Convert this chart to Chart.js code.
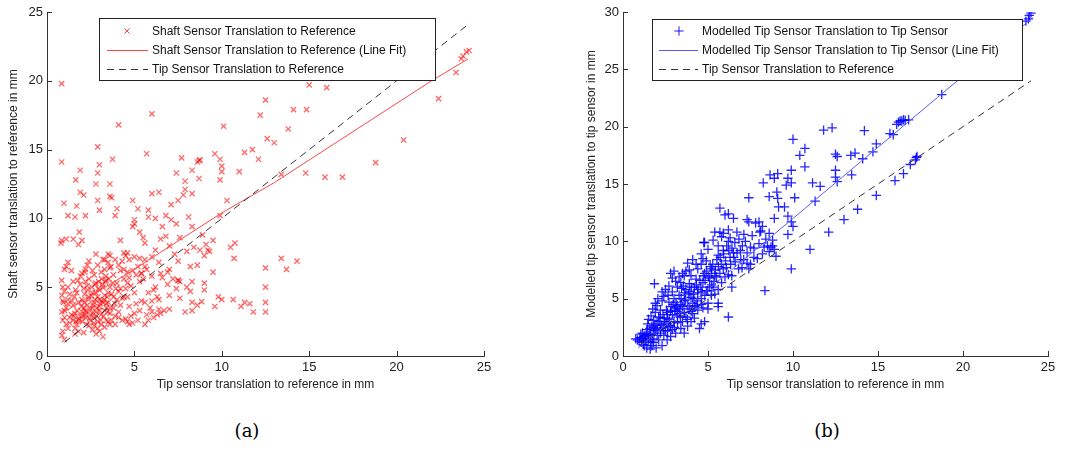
<!DOCTYPE html>
<html>
<head>
<meta charset="utf-8">
<script src="https://cdn.jsdelivr.net/npm/chart.js@4.4.0/dist/chart.umd.min.js"></script>
<style>
  body { margin: 0; background: #fff; width: 1069px; height: 449px; position: relative; overflow: hidden; }
  canvas { position: absolute; top: 0; }
  #chart_a { left: 0; }
  #chart_b { left: 534px; }
  .cap { position: absolute; top: 420px; width: 60px; text-align: center; font-family: "DejaVu Serif", serif; font-size: 18px; line-height: 22px; color: #000; }
</style>
</head>
<body>
<canvas id="chart_a" width="534" height="400"></canvas>
<canvas id="chart_b" width="535" height="400"></canvas>
<div class="cap" style="left:217px">(a)</div>
<div class="cap" style="left:797px">(b)</div>
<script>
// (a) shaft sensor vs tip sensor translation, mm
const shaft_points = [
  [0.84,19.8],[0.84,14.1],[0.97,11.1],[0.84,8.4],[0.8,8.2],[0.84,5.5],[1.2,10.2],[1.6,10.1],[1.5,8.5],[1.1,8.5],
  [1.9,13.5],[1.65,12.8],[1.7,10.9],[1.9,11.9],[2.1,11.7],[2.2,10.2],[1.85,9.0],[2.0,8.4],[1.8,8.1],
  [2.9,15.2],[3.0,13.9],[2.9,13.3],[2.8,12.5],[2.9,11.3],[3.0,10.6],[3.6,12.5],[3.6,11.6],[3.7,11.5],[3.75,14.3],
  [4.0,10.7],[3.9,10.2],[4.1,16.8],[6.0,17.6],[5.7,14.7],[6.0,11.8],[6.4,11.9],[5.8,10.6],[5.2,10.7],[4.9,11.3],
  [5.0,9.9],[4.9,9.4],[4.2,8.4],[5.8,10.1],[6.2,10.0],[6.8,10.2],[7.1,11.0],[7.5,11.3],[7.4,13.3],[7.7,14.4],
  [7.9,12.7],[7.9,12.1],[7.8,11.7],[8.3,13.5],[8.3,11.8],[8.7,14.2],[8.6,14.1],[8.75,14.25],[8.7,12.9],[8.1,10.1],
  [8.3,9.4],[7.4,9.6],[7.1,9.9],[6.6,9.4],[6.8,8.7],[7.6,8.6],[8.75,7.7],[9.1,8.1],[9.2,7.7],[9.0,7.3],
  [9.6,14.7],[9.9,14.3],[10.0,13.8],[10.0,13.4],[9.9,12.8],[10.1,16.7],[10.3,11.3],[9.9,10.2],[9.5,8.4],[10.5,7.9],
  [10.75,8.2],[10.7,7.1],[9.5,6.1],[11.0,13.4],[11.3,14.8],[11.75,15.0],[12.1,14.3],[12.2,17.5],[12.5,18.6],[12.6,15.8],
  [13.0,15.5],[13.8,16.5],[14.1,17.9],[14.85,17.9],[15.0,19.7],[16.0,19.5],[14.8,13.3],[15.9,13.0],[16.9,13.0],[13.4,13.2],
  [13.4,7.1],[13.7,6.3],[14.3,6.9],[12.5,6.4],[12.5,5.0],[12.5,3.9],[12.5,3.2],[11.8,3.2],[11.6,3.8],[11.3,3.9],
  [11.1,3.6],[10.65,4.1],[10.0,4.1],[9.8,4.3],[9.6,3.6],[9.0,4.8],[9.0,5.3],[8.85,3.95],[8.6,3.7],[8.3,3.9],
  [8.3,5.4],[8.2,4.7],[8.3,3.3],[7.9,3.2],[8.2,6.5],[8.6,6.6],[7.5,5.5],[7.4,4.9],[7.6,4.2],[7.0,4.4],[6.9,5.2],
  [18.8,14.05],[20.4,15.7],[22.4,18.7],[23.4,20.6],[23.8,21.8],[24.0,22.1],[24.15,22.2],[23.7,21.6],
  [5.0,9.6],[5.3,9.0],[5.5,8.6],[5.6,8.2],[6.5,8.5],[7.0,8.0],[6.2,7.7],[6.0,7.2],[7.3,7.4],[7.5,6.9],
  [8.0,7.6],[8.4,7.9],[7.0,6.3],[6.5,6.0],[8.0,5.0],[8.9,8.8],[9.3,7.6],[5.4,6.0],[5.6,6.5],[4.6,7.5],
  [4.4,7.5],[4.5,7.3],[3.5,7.4],[3.6,7.3],[3.2,7.0],[4.7,7.0],[5.5,5.6],[6.1,4.8],[6.4,4.1],[7.2,5.6],[7.5,5.5],[7.6,5.4],
  [0.85,1.5],[0.9,1.8],[1.0,1.2],[0.9,2.6],[1.0,2.8],[0.85,3.2],[1.1,3.5],[0.95,3.9],[1.2,4.1],[0.85,4.4],
  [1.0,4.7],[1.3,4.5],[1.1,6.5],[1.2,6.8],[1.0,6.3],[1.4,3.0],[1.3,2.4],[1.5,3.7],
  [1.6,2.0],[1.7,2.3],[1.8,2.6],[1.9,2.9],[1.6,3.1],[2.0,3.2],[2.2,3.0],[2.1,3.5],[2.3,3.7],[1.8,3.9],
  [2.0,4.1],[2.4,4.3],[1.7,4.6],[2.1,4.9],[2.3,5.1],[2.2,5.4],[1.9,5.2],[2.4,5.6],[2.0,6.0],[2.2,6.3],
  [2.3,6.6],[1.8,1.8],[2.1,1.7],[2.4,2.2],[2.5,2.6],[2.2,2.8],
  [2.6,1.9],[2.8,1.6],[3.0,1.8],[3.2,1.4],[2.9,2.5],[2.7,2.8],[3.1,3.0],[2.8,3.2],[3.3,3.3],[2.6,3.5],
  [3.0,3.6],[3.4,3.8],[2.7,3.9],[3.1,4.0],[2.9,4.3],[3.3,4.4],[2.6,4.6],[3.0,4.8],[3.2,5.0],[2.8,5.3],
  [3.4,5.5],[2.7,5.9],[3.1,6.1],[2.9,6.6],[3.3,7.0],[2.8,7.4],[3.0,3.3],[3.2,3.9],[2.75,4.1],
  [3.6,2.3],[3.7,2.6],[3.9,2.9],[3.6,3.1],[4.1,3.2],[3.8,3.5],[4.2,3.7],[3.5,3.9],[4.0,4.1],[4.3,4.2],
  [3.7,4.5],[4.1,4.7],[3.6,5.0],[4.0,5.3],[4.4,5.6],[3.8,5.9],[4.2,6.2],[3.6,6.4],[3.65,6.5],[4.3,6.9],[3.9,7.0],[4.4,4.3],
  [4.6,2.5],[4.5,2.7],[4.9,2.4],[5.2,2.6],[4.8,2.9],[5.0,3.1],[5.3,3.3],[4.7,3.6],[5.1,3.8],[5.4,4.0],
  [4.6,4.3],[5.0,4.6],[4.8,5.1],[5.3,5.4],[4.7,5.7],[5.1,5.9],[4.6,6.1],[5.4,6.0],[5.0,7.2],[5.3,7.1],
  [5.6,2.3],[5.8,2.6],[6.1,2.8],[5.7,3.0],[6.3,3.0],[6.0,3.2],[6.5,3.1],[5.9,3.5],[6.4,3.4],[6.7,3.3],
  [7.0,3.4],[5.6,3.9],[6.0,4.0],[6.3,4.3],[5.8,4.6],[6.2,5.0],[6.6,5.7],[6.0,5.8],[6.9,6.1],[5.7,6.3],[6.4,6.8],
  [3.4,2.6],[2.5,3.0],[1.5,2.6],[1.2,3.8],[3.5,4.6],[3.3,6.3],[4.5,4.9]
];
// the dense core below 7 mm
const shaft_core = [
  [1.55,2.9],[1.72,3.3],[1.97,3.6],[2.13,3.9],[2.38,4.1],[2.52,4.4],[2.78,4.6],[2.93,4.9],[3.18,5.2],[3.33,5.4],
  [1.66,2.5],[1.83,2.7],[2.07,2.9],[2.24,3.2],[2.47,3.4],[2.63,3.7],[2.87,3.5],[3.04,3.8],[3.27,4.1],[3.44,4.3],
  [2.02,2.5],[2.27,2.3],[2.43,2.7],[2.68,2.4],[2.84,2.9],[3.07,2.6],[3.23,2.9],[3.48,3.2],[3.62,3.5],[3.88,3.8],
  [2.16,4.5],[2.33,4.8],[2.57,5.0],[2.74,5.2],[2.96,5.4],[3.12,5.6],[3.37,5.8],[3.53,5.6],[3.78,5.3],[3.94,4.9],
  [1.43,4.0],[1.57,4.3],[1.64,4.8],[1.77,5.5],[1.93,5.8],[2.17,6.1],[2.6,6.2],[2.4,6.9],[3.5,6.8],[4.1,6.6],
  [3.1,2.3],[3.3,2.1],[2.9,2.0],[2.7,2.2],[3.5,2.5],[3.9,2.3],[4.3,2.6],[4.7,2.3],[4.1,2.8],[3.0,4.1],
  [2.2,3.3],[2.6,3.1],[3.4,3.5],[3.8,4.3],[4.2,4.9],[4.6,5.3],[4.9,6.2],[4.4,6.3],[5.2,6.5],[5.6,7.0],
  [1.2,2.0],[1.1,2.3],[1.3,2.8],[1.0,3.3],[1.2,5.0],[1.5,5.4],[1.4,6.2],[0.9,5.0],[0.9,4.0],[1.6,1.6]
];
const shaft_fit = [[0.85,3.1],[4.5,5.9],[10.0,10.4],[13.0,12.6],[22.0,20.0],[24.1,21.6]];
const tip_ref_a = [[1.0,1.0],[24.2,24.2]];

// (b) modelled tip sensor vs tip sensor translation, mm
const model_points = [
  [23.9,29.7],[23.85,29.4],[23.7,29.2],[24.0,29.9],[18.75,22.8],[17.3,17.4],[17.2,17.1],[17.25,17.3],[16.9,16.7],[16.5,15.9],
  [16.0,15.3],[14.9,14.0],[13.8,12.8],[13.0,11.9],[12.1,10.8],[11.0,9.3],[9.9,7.6],[16.2,20.4],[16.3,20.5],[16.5,20.6],
  [16.8,20.6],[16.1,20.2],[16.4,20.5],[16.6,20.55],[15.7,19.4],[15.9,19.3],[14.9,18.5],[14.7,17.8],[14.1,17.2],[14.2,19.65],
  [13.65,17.7],[13.4,17.5],[13.45,15.8],[12.5,17.6],[12.6,17.4],[12.5,16.2],[12.5,15.6],[12.6,15.2],[12.3,19.9],[11.8,19.7],
  [11.6,14.8],[11.15,15.1],[11.3,13.5],[10.7,18.1],[10.4,17.5],[10.7,16.5],[10.0,18.9],[9.9,16.2],[9.9,15.1],[10.1,13.8],
  [9.7,15.5],[9.6,14.9],[9.5,13.0],[9.7,12.2],[9.7,10.6],[9.9,11.7],[10.0,11.3],[8.65,15.8],[8.9,15.5],[9.1,15.9],
  [9.05,14.3],[9.1,13.75],[8.6,13.9],[8.25,15.1],[9.15,13.0],[8.9,12.0],[9.0,8.7],[8.35,5.7],[7.4,13.8],[7.3,11.9],
  [7.4,11.7],[8.0,11.7],[8.2,11.3],[8.05,10.8],[8.6,10.7],[6.5,12.0],[6.2,12.4],[6.0,12.3],[5.7,12.9],[6.2,11.0],
  [6.3,10.3],[5.9,10.7],[5.4,10.8],[4.8,9.9],[6.2,3.4],[6.4,6.0],[5.6,4.3],
  [0.75,1.5],[0.85,1.4],[0.95,1.3],[1.0,1.6],[1.1,1.2],[1.2,1.0],[1.3,1.8],[1.15,2.0],[1.4,2.3],[1.35,1.5],
  [1.25,0.9],[1.45,2.8],[1.5,3.2],[1.05,1.9],[1.4,0.7],[1.5,1.4],
  [1.6,0.6],[1.7,0.9],[1.8,1.2],[1.6,1.9],[1.9,2.2],[1.7,2.6],[2.0,2.8],[1.8,3.1],[2.1,3.4],[1.9,3.8],
  [2.2,4.0],[2.0,4.4],[2.3,4.8],[1.85,6.3],[2.4,5.2],[2.2,2.4],[2.4,1.8],[2.1,1.4],[2.3,0.9],[1.95,0.7],
  [2.5,2.2],[2.45,3.0],[2.35,3.6],[1.75,4.1],[1.65,3.5],[2.05,5.0],
  [2.6,1.4],[2.8,1.7],[2.9,2.3],[2.7,2.7],[3.0,3.0],[2.6,3.3],[3.2,3.5],[2.8,3.9],[3.1,4.2],[3.4,4.5],
  [2.7,4.7],[3.0,5.0],[3.3,5.3],[2.9,5.6],[3.2,6.0],[3.4,6.4],[2.8,7.2],[3.0,7.4],[3.3,6.9],[3.5,3.0],
  [3.4,2.4],[3.1,2.0],[2.65,5.3],[3.45,5.9],[3.2,3.9],[2.95,4.5],[3.35,4.1],[2.55,4.0],
  [3.6,2.0],[3.8,2.6],[4.0,3.0],[3.7,3.4],[4.1,3.7],[3.9,4.1],[4.3,4.4],[3.6,4.8],[4.0,5.1],[4.4,5.5],
  [3.7,5.8],[4.2,6.0],[3.9,6.3],[4.3,6.7],[3.6,7.0],[4.0,7.0],[3.8,8.1],[4.4,7.6],[4.2,3.3],[4.5,2.4],
  [4.4,4.0],[3.55,6.1],[4.1,4.6],[3.85,5.4],
  [4.6,2.8],[4.8,3.0],[4.7,4.2],[5.0,4.6],[4.6,5.0],[5.2,5.3],[4.9,5.7],[5.3,6.0],[4.7,6.4],[5.1,6.8],
  [4.8,7.2],[5.4,7.0],[4.6,8.0],[4.9,8.3],[4.7,8.5],[5.2,7.6],[4.75,9.9],[5.4,5.4],[5.0,4.1],[5.35,6.5],
  [5.1,6.0],[4.65,5.6],
  [5.6,5.8],[5.8,6.4],[6.0,6.9],[5.7,7.2],[6.2,7.1],[5.9,7.6],[6.4,7.0],[5.6,8.8],[5.8,10.4],[5.7,10.8],
  [5.9,9.2],[6.3,8.6],[6.6,8.2],[6.1,9.6],[6.5,9.0],[6.8,7.6],[6.9,9.2],[5.5,6.9],[6.2,10.0],[6.7,10.8],[5.6,4.6],
  [7.1,8.4],[7.3,9.0],[7.5,9.5],[7.2,10.0],[7.7,8.6],[7.9,8.5],[7.6,10.5],[8.0,9.8],[8.3,9.5],[8.5,9.6],
  [8.7,9.5],[8.8,9.6],[8.4,10.2],[7.4,7.6],[7.0,7.7],[7.8,11.6],[8.1,10.9],[8.6,9.1],[7.5,8.0]
];
// the dense band below 7 mm
const model_core = [
  [1.12,1.5],[1.23,1.7],[1.31,1.3],[1.52,1.8],[1.58,2.4],[1.73,1.5],[1.82,2.0],[1.88,2.7],[2.03,2.3],[2.12,3.0],
  [2.21,2.0],[2.28,2.7],[2.42,3.3],[2.53,2.8],[2.61,3.8],[2.72,3.2],[2.83,4.3],[2.91,3.6],[3.04,4.0],[3.12,4.7],
  [3.18,4.4],[3.31,3.7],[3.42,5.0],[3.51,4.3],[3.62,5.5],[3.68,4.9],[3.81,4.4],[3.93,5.6],[4.02,6.0],[4.13,5.4],
  [4.18,5.0],[4.32,6.2],[4.41,5.8],[4.52,6.6],[4.58,6.0],[4.72,7.0],[4.83,6.6],[4.91,7.4],[5.02,6.9],[5.13,7.8],
  [5.22,7.2],[5.28,8.0],[5.43,7.5],[5.52,8.4],[5.61,7.8],[5.72,8.6],[5.78,8.0],[5.92,8.9],[6.03,8.3],[6.08,7.7],
  [6.22,9.2],[6.33,8.0],[6.41,9.4],[6.52,8.6],[6.58,9.9],[6.71,9.0],[6.82,10.2],[6.93,8.4],[7.02,9.6],[7.11,10.6],
  [1.42,1.9],[1.63,1.2],[1.79,2.5],[2.01,1.8],[2.19,3.3],[2.38,2.5],[2.62,2.2],[2.79,2.6],[3.02,2.5],[3.21,2.9],
  [3.38,3.4],[3.61,3.8],[3.79,3.2],[4.01,3.9],[4.22,4.3],[4.38,4.8],[4.62,4.5],[4.81,5.3],[4.98,5.7],[5.21,6.2],
  [2.5,5.8],[2.7,6.1],[3.1,6.5],[3.5,7.2],[3.9,7.5],[4.3,8.0],[4.6,8.9],[5.0,9.3],[5.3,10.1],[5.6,9.6],
  [1.9,4.6],[2.3,5.6],[2.9,6.8],[3.7,7.4],[4.1,8.4],[7.7,9.4],[8.2,8.9],[8.8,10.1],[8.9,9.3],[7.3,8.1]
];
const model_fit = [[0.9,0.7],[24.1,29.5]];
const tip_ref_b = [[1.0,1.0],[24.0,24.0]];

const x_ticks = [0, 5, 10, 15, 20, 25];
const y_ticks_a = [0, 5, 10, 15, 20, 25];
const y_ticks_b = [0, 5, 10, 15, 20, 25, 30];

const FONT = "'Liberation Sans', Arial, sans-serif";
const to_xy = (pts) => pts.map((p) => ({ x: p[0], y: p[1] }));

// MATLAB style ticks pointing into the plot
const inner_ticks = {
  id: "inner_ticks",
  afterDatasetsDraw(chart) {
    const ctx = chart.ctx;
    const { x, y } = chart.scales;
    ctx.save();
    ctx.strokeStyle = "#333";
    ctx.lineWidth = 1;
    ctx.beginPath();
    x.ticks.forEach((t) => {
      const px = Math.round(x.getPixelForValue(t.value)) + 0.5;
      ctx.moveTo(px, y.bottom);
      ctx.lineTo(px, y.bottom - 5);
    });
    y.ticks.forEach((t) => {
      const py = Math.round(y.getPixelForValue(t.value)) + 0.5;
      ctx.moveTo(x.left, py);
      ctx.lineTo(x.left + 5, py);
    });
    ctx.stroke();
    ctx.restore();
  },
};

// legend box inside the plot
const box_legend = {
  id: "box_legend",
  afterDraw(chart, args, o) {
    const ctx = chart.ctx;
    const [bx, by, bw, bh] = o.box;
    ctx.save();
    ctx.fillStyle = "#fff";
    ctx.fillRect(bx, by, bw, bh);
    ctx.strokeStyle = "#222";
    ctx.lineWidth = 1;
    ctx.strokeRect(bx + 0.5, by + 0.5, bw, bh);
    ctx.font = "12px " + FONT;
    ctx.textBaseline = "middle";
    o.order.forEach((di, i) => {
      const ds = chart.data.datasets[di];
      const ry = by + o.row0 + i * o.rowGap;
      if (ds.showLine) {
        ctx.beginPath();
        ctx.strokeStyle = ds.borderColor;
        ctx.setLineDash(ds.borderDash || []);
        ctx.moveTo(bx + o.lineX0, ry + 0.5);
        ctx.lineTo(bx + o.lineX1, ry + 0.5);
        ctx.stroke();
        ctx.setLineDash([]);
      } else {
        ctx.strokeStyle = o.markColor;
        ctx.lineWidth = 1;
        Chart.helpers.drawPoint(ctx, { pointStyle: ds.pointStyle, radius: ds.pointRadius, borderWidth: 1 }, bx + o.markX, ry);
      }
      ctx.fillStyle = "#111";
      ctx.fillText(ds.label, bx + o.textX, ry + 1);
    });
    ctx.restore();
  },
};

function make_chart(id, datasets, ymax, yticks, ytitle, ywidth, ytitlePad, padRight, legend) {
  return new Chart(document.getElementById(id), {
    type: "scatter",
    data: { datasets: datasets },
    options: {
      responsive: false,
      animation: false,
      layout: { padding: { top: 12, right: padRight, bottom: 0, left: 0 } },
      plugins: { legend: { display: false }, tooltip: { enabled: false }, box_legend: legend },
      scales: {
        x: {
          type: "linear", min: 0, max: 25,
          afterBuildTicks: (s) => { s.ticks = x_ticks.map((v) => ({ value: v })); },
          afterFit: (s) => { s.height = 44; },
          grid: { display: false, drawTicks: false },
          border: { display: true, color: "#333" },
          ticks: { font: { size: 13, family: FONT }, color: "#222", padding: 4, maxRotation: 0, autoSkip: false },
          title: { display: true, text: "Tip sensor translation to reference in mm", font: { size: 12, family: FONT }, color: "#222", padding: { top: 0, bottom: 8 } },
        },
        y: {
          type: "linear", min: 0, max: ymax,
          afterBuildTicks: (s) => { s.ticks = yticks.map((v) => ({ value: v })); },
          afterFit: (s) => { s.width = ywidth; },
          grid: { display: false, drawTicks: false },
          border: { display: true, color: "#333" },
          ticks: { font: { size: 13, family: FONT }, color: "#222", padding: 4, autoSkip: false },
          title: { display: true, text: ytitle, font: { size: 12, family: FONT }, color: "#222", padding: { top: ytitlePad, bottom: 0 } },
        },
      },
    },
    plugins: [inner_ticks, box_legend],
  });
}

const chart_a = make_chart("chart_a", [
  { label: "Shaft Sensor Translation to Reference", data: to_xy(shaft_points.concat(shaft_core)), pointStyle: "crossRot", pointRadius: 3.7,
    borderColor: "rgba(255,0,0,0.6)", backgroundColor: "rgba(255,0,0,0.6)", borderWidth: 1.3, order: 3 },
  { label: "Shaft Sensor Translation to Reference (Line Fit)", data: to_xy(shaft_fit), showLine: true, pointRadius: 0,
    borderColor: "rgb(255,70,70)", borderWidth: 1, tension: 0, order: 2 },
  { label: "Tip Sensor Translation to Reference", data: to_xy(tip_ref_a), showLine: true, pointRadius: 0,
    borderColor: "#333", borderDash: [7, 5], borderWidth: 1, order: 1 },
], 25, y_ticks_a, "Shaft sensor translation to reference in mm", 47, 6, 50,
  { box: [99, 18, 336, 62], row0: 13, rowGap: 19, lineX0: 8, lineX1: 49, markX: 28, textX: 53, markColor: "rgba(255,0,0,0.7)", order: [0, 1, 2] });

const chart_b = make_chart("chart_b", [
  { label: "Modelled Tip Sensor Translation to Tip Sensor", data: to_xy(model_points.concat(model_core)), pointStyle: "cross", pointRadius: 4.7,
    borderColor: "rgba(0,0,255,0.85)", backgroundColor: "rgba(0,0,255,0.85)", borderWidth: 1.3, order: 3 },
  { label: "Modelled Tip Sensor Translation to Tip Sensor (Line Fit)", data: to_xy(model_fit), showLine: true, pointRadius: 0,
    borderColor: "rgb(90,90,255)", borderWidth: 1, tension: 0, order: 2 },
  { label: "Tip Sensor Translation to Reference", data: to_xy(tip_ref_b), showLine: true, pointRadius: 0,
    borderColor: "#333", borderDash: [7, 5], borderWidth: 1, order: 1 },
], 30, y_ticks_b, "Modelled tip sensor translation to tip sensor in mm", 89, 50, 21,
  { box: [118, 19, 370, 61], row0: 12, rowGap: 19, lineX0: 7, lineX1: 46, markX: 27, textX: 50, markColor: "rgba(0,0,255,0.9)", order: [0, 1, 2] });
</script>
</body>
</html>
